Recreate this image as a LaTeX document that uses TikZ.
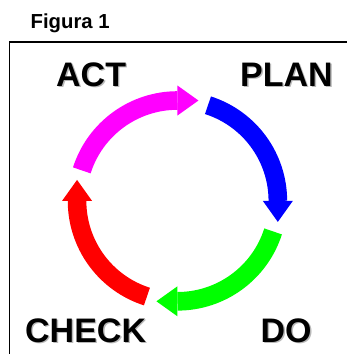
\documentclass[tikz,border=0pt]{standalone}
\usepackage{fontspec}
\setmainfont{Liberation Sans}
\definecolor{pureblue}{RGB}{0,0,255}
\definecolor{puregreen}{RGB}{0,255,0}
\definecolor{purered}{RGB}{255,0,0}
\definecolor{puremagenta}{RGB}{255,0,255}
\newcommand\shadowed[1]{\rlap{\raisebox{-1.3pt}{\hspace{1.3pt}\textcolor{black!28}{#1}}}#1}
\tikzset{
  biglabel/.style={anchor=base west,inner sep=0pt,font=\fontsize{34}{34}\selectfont\bfseries},
  titlelabel/.style={anchor=base west,inner sep=0pt,font=\fontsize{20.3}{20.3}\selectfont\bfseries},
  frameline/.style={draw=black,line width=1.7pt},
  arcshaft/.style={line width=18.6pt,line cap=butt},
}
\begin{document}
\begin{tikzpicture}[x=1pt,y=-1pt]
\useasboundingbox (0,0) rectangle (347,354);
\coordinate (cycle) at (177.45,200.9);
\draw[frameline] (9.5,354) -- (9.5,42) -- (347,42);
\node[titlelabel] (fig) at (30.5,28) {Figura 1};
\foreach \rot/\col in {0/pureblue,90/puremagenta,180/purered,270/puregreen}{
  \begin{scope}[shift={(cycle)},rotate=\rot]
    \draw[arcshaft,draw=\col] (-72.3:100.4) arc[start angle=-72.3,end angle=0,radius=100.4];
    \fill[\col] (85.4,0) -- (115.4,0) -- (100.4,21) -- cycle;
  \end{scope}
}
\node[biglabel] (act) at (56,86) {\shadowed{ACT}};
\node[biglabel] (plan) at (240,86) {\shadowed{PLAN}};
\node[biglabel] (check) at (25,342) {\shadowed{CHECK}};
\node[biglabel] (do) at (260.5,342) {\shadowed{DO}};
\end{tikzpicture}
\end{document}
